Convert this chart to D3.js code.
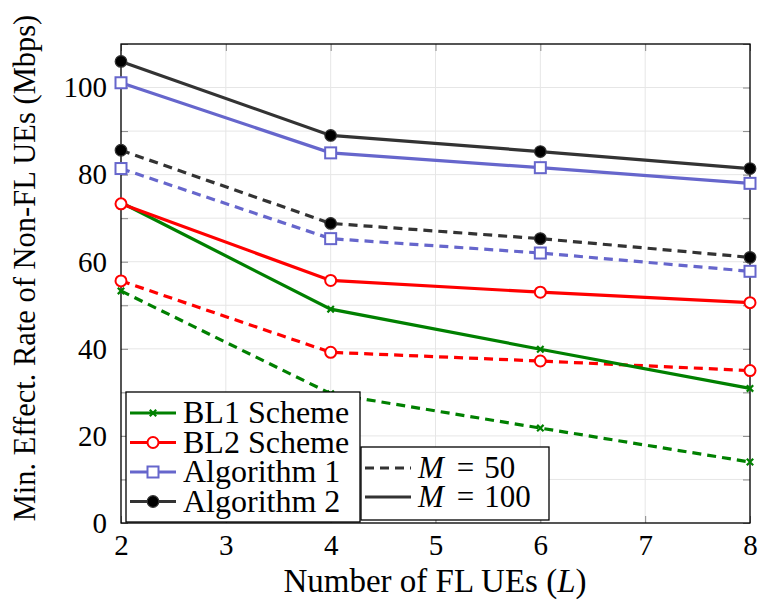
<!DOCTYPE html>
<html>
<head>
<meta charset="utf-8">
<script src="https://cdn.jsdelivr.net/npm/d3@7"></script>
<style>
  body { margin: 0; background: #fff; }
  svg text { font-family: "Liberation Serif", "Times New Roman", Times, "DejaVu Serif", serif !important; }
</style>
</head>
<body>
<svg id="chart" width="761" height="605"></svg>
<script>
// data
var L = [2, 4, 6, 8];
var bl1_50 = [53.3, 29.7, 21.8, 14.0];
var bl1_100 = [73.6, 49.1, 39.9, 30.9];
var bl2_50 = [55.6, 39.2, 37.2, 35.0];
var bl2_100 = [73.3, 55.7, 53.0, 50.6];
var alg1_50 = [81.4, 65.3, 62.0, 57.8];
var alg1_100 = [101.1, 85.0, 81.6, 78.0];
var alg2_50 = [85.6, 68.8, 65.3, 61.0];
var alg2_100 = [106.0, 89.0, 85.3, 81.4];
var xTicks = [2, 3, 4, 5, 6, 7, 8];
var yTicks = [0, 20, 40, 60, 80, 100];

var margin = { top: 44, right: 11, bottom: 82, left: 121 },
  width = 761 - margin.left - margin.right,
  height = 605 - margin.top - margin.bottom;

var svg = d3.select("#chart");
var g = svg.append("g").attr("transform", "translate(" + margin.left + "," + margin.top + ")");

var x = d3.scaleLinear().domain([2, 8]).range([0, width]);
var y = d3.scaleLinear().domain([0, 110]).range([height, 0]);

// grid
var gridY = d3.range(0, 111, 10);
g.append("g").selectAll("line").data(gridY).enter().append("line")
  .attr("x1", 0).attr("x2", width)
  .attr("y1", d => y(d)).attr("y2", d => y(d))
  .attr("stroke", "#e6e6e6").attr("stroke-width", 1);
g.append("g").selectAll("line").data(xTicks).enter().append("line")
  .attr("y1", 0).attr("y2", height)
  .attr("x1", d => x(d)).attr("x2", d => x(d))
  .attr("stroke", "#e6e6e6").attr("stroke-width", 1);

// axes (ticks inside, mirrored)
function styleAxis(sel) {
  sel.attr("font-family", null);
  sel.select(".domain").remove();
  sel.selectAll(".tick line").attr("stroke", "#888").attr("stroke-width", 1);
  sel.selectAll(".tick text").attr("font-size", 29).attr("fill", "#000");
}
g.append("g").attr("transform", "translate(0," + height + ")")
  .call(d3.axisBottom(x).tickValues(xTicks).tickFormat(d3.format("d")).tickSize(-7).tickPadding(11))
  .call(styleAxis);
g.append("g")
  .call(d3.axisTop(x).tickValues(xTicks).tickFormat("").tickSize(-7))
  .call(styleAxis);
g.append("g")
  .call(d3.axisLeft(y).tickValues(gridY).tickFormat(d => yTicks.indexOf(d) >= 0 ? d : "").tickSize(-7).tickPadding(14))
  .call(styleAxis);
g.append("g").attr("transform", "translate(" + width + ",0)")
  .call(d3.axisRight(y).tickValues(gridY).tickFormat("").tickSize(-7))
  .call(styleAxis);

g.append("rect").attr("width", width).attr("height", height)
  .attr("fill", "none").attr("stroke", "#000").attr("stroke-width", 1.3);

var series = [
  { v: bl1_50, c: "#008000", m: "x", dash: true },
  { v: bl2_50, c: "#ff0000", m: "o", dash: true },
  { v: alg1_50, c: "#6666cc", m: "s", dash: true },
  { v: alg2_50, c: "#333333", m: "dot", dash: true },
  { v: bl1_100, c: "#008000", m: "x", dash: false },
  { v: bl2_100, c: "#ff0000", m: "o", dash: false },
  { v: alg1_100, c: "#6666cc", m: "s", dash: false },
  { v: alg2_100, c: "#333333", m: "dot", dash: false }
];

var line = d3.line().x((d, i) => x(L[i])).y(d => y(d));

function marker(sel, type, c, cx, cy) {
  if (type === "x") {
    var s = 3.2;
    sel.append("path")
      .attr("d", "M" + (cx - s) + "," + (cy - s) + "L" + (cx + s) + "," + (cy + s) +
        "M" + (cx - s) + "," + (cy + s) + "L" + (cx + s) + "," + (cy - s))
      .attr("stroke", c).attr("stroke-width", 2.2).attr("fill", "none");
  } else if (type === "o") {
    sel.append("circle").attr("cx", cx).attr("cy", cy).attr("r", 5.5)
      .attr("fill", "#fff").attr("stroke", c).attr("stroke-width", 2);
  } else if (type === "s") {
    sel.append("rect").attr("x", cx - 5.5).attr("y", cy - 5.5).attr("width", 11).attr("height", 11)
      .attr("fill", "#fff").attr("stroke", c).attr("stroke-width", 2);
  } else {
    sel.append("circle").attr("cx", cx).attr("cy", cy).attr("r", 5.8)
      .attr("fill", "#000").attr("stroke", c).attr("stroke-width", 1.2);
  }
}

series.forEach(function (s) {
  g.append("path").datum(s.v).attr("d", line)
    .attr("fill", "none").attr("stroke", s.c).attr("stroke-width", 3.2)
    .attr("stroke-dasharray", s.dash ? "9,6" : null);
  s.v.forEach(function (d, i) { marker(g, s.m, s.c, x(L[i]), y(d)); });
});

// legend 1
var leg1 = svg.append("g").attr("transform", "translate(126,392)");
leg1.append("rect").attr("width", 234).attr("height", 130)
  .attr("fill", "#fff").attr("stroke", "#000").attr("stroke-width", 1.3);
var names = ["BL1 Scheme", "BL2 Scheme", "Algorithm 1", "Algorithm 2"];
var lc = ["#008000", "#ff0000", "#6666cc", "#333333"];
var lm = ["x", "o", "s", "dot"];
names.forEach(function (n, i) {
  var yy = 21 + i * 29.5;
  leg1.append("line").attr("x1", 4).attr("x2", 50).attr("y1", yy).attr("y2", yy)
    .attr("stroke", lc[i]).attr("stroke-width", 3.2);
  marker(leg1, lm[i], lc[i], 27, yy);
  leg1.append("text").attr("x", 57).attr("y", yy + 10).attr("font-size", 32).text(n);
});

// legend 2
var leg2 = svg.append("g").attr("transform", "translate(361,447)");
leg2.append("rect").attr("width", 188).attr("height", 73)
  .attr("fill", "#fff").attr("stroke", "#000").attr("stroke-width", 1.3);
var mNames = ["50", "100"];
mNames.forEach(function (n, i) {
  var yy = 21 + i * 29;
  leg2.append("line").attr("x1", 4).attr("x2", 50).attr("y1", yy).attr("y2", yy)
    .attr("stroke", "#333333").attr("stroke-width", 3.2)
    .attr("stroke-dasharray", i === 0 ? "9,6" : null);
  var t = leg2.append("text").attr("x", 57).attr("y", yy + 10).attr("font-size", 31);
  t.append("tspan").attr("font-style", "italic").text("M");
  t.append("tspan").attr("dx", 13).text("=");
  t.append("tspan").attr("dx", 10).text(n);
});

// axis labels
svg.append("text").attr("x", 435).attr("y", 592).attr("text-anchor", "middle")
  .attr("font-size", 33)
  .html('Number of FL UEs (<tspan font-style="italic">L</tspan>)');
svg.append("text").attr("transform", "translate(35,268) rotate(-90)")
  .attr("text-anchor", "middle").attr("font-size", 30.5)
  .text("Min. Effect. Rate of Non-FL UEs (Mbps)");
</script>
</body>
</html>
